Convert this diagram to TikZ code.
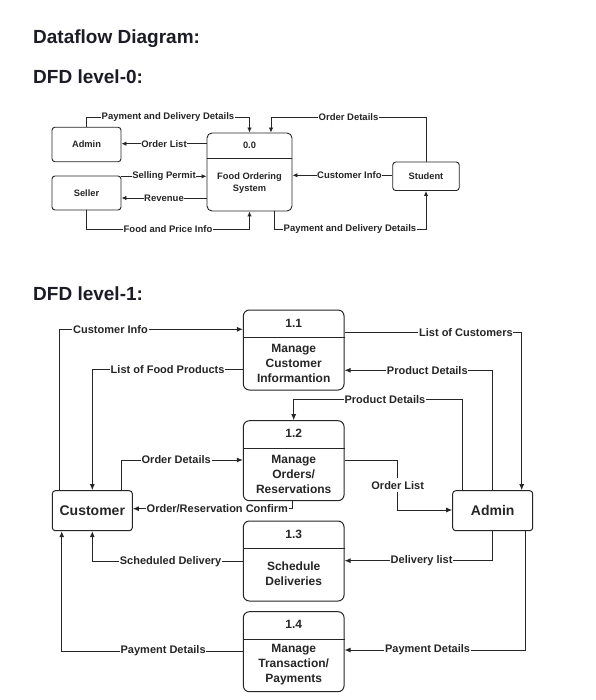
\documentclass[tikz,border=0pt]{standalone}
\usepackage{fontspec}
\setmainfont{Liberation Sans}
\usetikzlibrary{arrows.meta,calc}
\definecolor{ink}{HTML}{262626}
\definecolor{ttl}{HTML}{1C1C26}
\tikzset{
  flow/.style={draw=ink, line width=0.9pt, -{Latex[length=5pt,width=4.5pt]}},
  plain/.style={draw=ink, line width=0.9pt},
  lbl/.style={fill=white, inner sep=0.6pt, text=ink, font=\bfseries\fontsize{9.5}{10}\selectfont},
  lblb/.style={fill=white, inner sep=0.8pt, text=ink, font=\bfseries\fontsize{11}{12}\selectfont},
  ent0/.style={draw=ink, line width=0.9pt, rounded corners=3pt, text=ink, font=\bfseries\fontsize{9.3}{10}\selectfont},
  proc0/.style={draw=ink, line width=0.9pt, rounded corners=5pt},
  ent1/.style={draw=ink, line width=1pt, rounded corners=3pt, text=ink, font=\bfseries\fontsize{14}{16}\selectfont},
  proc1/.style={draw=ink, line width=1pt, rounded corners=6pt, minimum width=100.7pt, minimum height=80pt},
  ptxt0/.style={text=ink, align=center, font=\bfseries\fontsize{9.3}{12.5}\selectfont},
  ptxt1/.style={text=ink, align=center, font=\bfseries\fontsize{12}{15}\selectfont},
  title/.style={anchor=base west, text=ttl, inner sep=0pt, font=\bfseries\fontsize{19}{22}\selectfont}
}
\begin{document}
\begin{tikzpicture}[x=1pt,y=-1pt]
\useasboundingbox[fill=white] (0,0) rectangle (595,700);

% titles
\node[title] (t1) at (33,43.3) {Dataflow Diagram:};
\node[title] (t2) at (33,83.3) {DFD level-0:};
\node[title] (t3) at (33,300.7) {DFD level-1:};

% ---------------- level 0 ----------------
\node[ent0, minimum width=69pt, minimum height=34.5pt] (admin0) at (86.5,144.5) {Admin};
\node[ent0, minimum width=69pt, minimum height=34pt] (seller0) at (86.5,193) {Seller};
\node[ent0, minimum width=66.5pt, minimum height=28.5pt] (student0) at (426,176.3) {Student};
\node[proc0, minimum width=85pt, minimum height=78pt] (p0) at (249.5,172) {};
\draw[plain] (p0.west |- 0,158.3) -- (p0.east |- 0,158.3);
\node[ptxt0] (p0id) at (249.5,145) {0.0};
\node[ptxt0] (p0txt) at (249.5,183) {Food Ordering\\System};

\draw[flow] (admin0.north) -- (86.5,117) -- node[lbl] {Payment and Delivery Details} (249.5,117) -- (p0.north);
\draw[flow] (student0.north) -- (426,117) -- node[lbl] {Order Details} (271,117) -- (p0.north -| 271,0);
\draw[flow] (p0.west |- 0,143.7) -- node[lbl] {Order List} (admin0.east |- 0,143.7);
\draw[flow] (seller0.east |- 0,176.3) -- node[lbl] {Selling Permit} (p0.west |- 0,176.3);
\draw[flow] (p0.west |- 0,198) -- node[lbl] {Revenue} (seller0.east |- 0,198);
\draw[flow] (seller0.south) -- (86.5,229.3) -- node[lbl] {Food and Price Info} (249.5,229.3) -- (p0.south);
\draw[flow] (student0.west |- 0,175.3) -- node[lbl, pos=0.43] {Customer Info} (p0.east |- 0,175.3);
\draw[flow] (p0.south -| 274,0) -- (274,229.3) -- node[lbl] {Payment and Delivery Details} (426,229.3) -- (student0.south);

% ---------------- level 1 ----------------
\node[ent1, minimum width=80pt, minimum height=40pt] (cust) at (92.3,510.7) {Customer};
\node[ent1, minimum width=80pt, minimum height=40pt] (admin1) at (492.7,510.7) {Admin};

\node[proc1] (p1) at (293.7,350) {};
\draw[plain, line width=1pt] (p1.west |- 0,337.3) -- (p1.east |- 0,337.3);
\node[ptxt1] (p1id) at (293.7,323) {1.1};
\node[ptxt1] (p1txt) at (293.7,363.5) {Manage\\Customer\\Informantion};

\node[proc1] (p2) at (293.7,460.7) {};
\draw[plain, line width=1pt] (p2.west |- 0,448) -- (p2.east |- 0,448);
\node[ptxt1] (p2id) at (293.7,433.5) {1.2};
\node[ptxt1] (p2txt) at (293.7,474.5) {Manage\\Orders/\\Reservations};

\node[proc1] (p3) at (293.7,561) {};
\draw[plain, line width=1pt] (p3.west |- 0,548.3) -- (p3.east |- 0,548.3);
\node[ptxt1] (p3id) at (293.7,534) {1.3};
\node[ptxt1] (p3txt) at (293.7,574) {Schedule\\Deliveries};

\node[proc1] (p4) at (293.7,651.7) {};
\draw[plain, line width=1pt] (p4.west |- 0,639) -- (p4.east |- 0,639);
\node[ptxt1] (p4id) at (293.7,624.5) {1.4};
\node[ptxt1] (p4txt) at (293.7,665) {Manage\\Transaction/\\Payments};

\begin{scope}[every path/.append style={line width=1pt}]
\tikzset{flow/.append style={-{Latex[length=6pt,width=5pt]}}}
\draw[flow] (cust.north -| 59,0) -- (59,329.3) -- node[lblb, pos=0.28] {Customer Info} (p1.west |- 0,329.3);
\draw[flow] (p1.west |- 0,369.3) -- node[lblb] {List of Food Products} (92.3,369.3) -- (cust.north);
\draw[flow] (p1.east |- 0,332.3) -- node[lblb, pos=0.685] {List of Customers} (521.7,332.3) -- (admin1.north -| 521.7,0);
\draw[flow] (admin1.north -| 492.3,0) -- (492.3,370.3) -- node[lblb, pos=0.44] {Product Details} (p1.east |- 0,370.3);
\draw[flow] (admin1.north -| 462.7,0) -- (462.7,399.3) -- node[lblb, pos=0.46] {Product Details} (293.7,399.3) -- (p2.north);
\draw[flow] (cust.north -| 121.7,0) -- (121.7,460) -- node[lblb, pos=0.45] {Order Details} (p2.west |- 0,460);
\draw[flow] (p2.south -| 292.3,0) -- (292.3,508.7) -- node[lblb, pos=0.47] {Order/Reservation Confirm} (cust.east |- 0,508.7);
\draw[flow] (p2.east |- 0,460.7) -- (397.7,460.7) -- node[lblb, fill=white, inner ysep=3pt] {Order List} (397.7,510) -- (admin1.west |- 0,510);
\draw[flow] (p3.west |- 0,561.3) -- node[lblb, pos=0.48] {Scheduled Delivery} (92.3,561.3) -- (cust.south);
\draw[flow] (p4.west |- 0,651) -- node[lblb, pos=0.44] {Payment Details} (61.7,651) -- (cust.south -| 61.7,0);
\draw[flow] (admin1.south) -- (492.7,560.7) -- node[lblb, pos=0.48] {Delivery list} (p3.east |- 0,560.7);
\draw[flow] (admin1.south -| 525,0) -- (525,650) -- node[lblb, pos=0.54] {Payment Details} (p4.east |- 0,650);
\end{scope}
\end{tikzpicture}
\end{document}
